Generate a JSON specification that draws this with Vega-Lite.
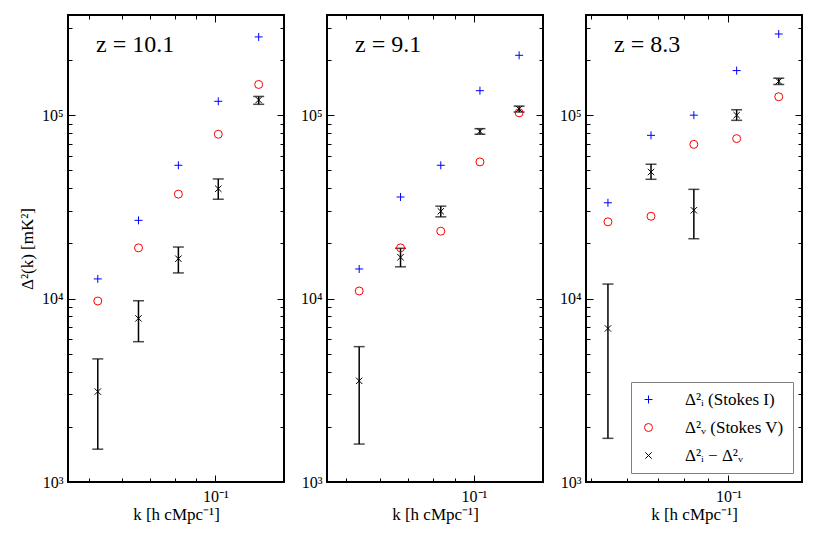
{
  "$schema": "https://vega.github.io/schema/vega-lite/v6.json",
  "padding": {"left": 17, "top": 13, "right": 5, "bottom": 5},
  "config": {
    "font": "Liberation Serif",
    "view": {"stroke": "black", "strokeWidth": 2},
    "axis": {"domain": false, "grid": false, "tickColor": "black", "tickWidth": 1, "labelFont": "Liberation Serif", "labelFontSize": 16, "labelColor": "black", "titleFont": "Liberation Serif", "titleFontWeight": "normal", "titleFontSize": 17, "titleColor": "black", "labelOverlap": false, "labelFlush": false},
    "title": {"font": "Liberation Serif", "fontWeight": "normal", "fontSize": 24, "color": "black"}
  },
  "datasets": {
    "pts": [
      {"z": "10.1", "k": 0.0526, "series": "I", "value": 12800},
      {"z": "10.1", "k": 0.0657, "series": "I", "value": 26700},
      {"z": "10.1", "k": 0.0817, "series": "I", "value": 53300},
      {"z": "10.1", "k": 0.1016, "series": "I", "value": 119000},
      {"z": "10.1", "k": 0.1267, "series": "I", "value": 267000},
      {"z": "10.1", "k": 0.0526, "series": "V", "value": 9700},
      {"z": "10.1", "k": 0.0657, "series": "V", "value": 18900},
      {"z": "10.1", "k": 0.0817, "series": "V", "value": 37100},
      {"z": "10.1", "k": 0.1016, "series": "V", "value": 78700},
      {"z": "10.1", "k": 0.1267, "series": "V", "value": 147000},
      {"z": "10.1", "k": 0.0526, "series": "D", "value": 3110, "lo": 1510, "hi": 4690},
      {"z": "10.1", "k": 0.0657, "series": "D", "value": 7800, "lo": 5820, "hi": 9730},
      {"z": "10.1", "k": 0.0817, "series": "D", "value": 16500, "lo": 13800, "hi": 19100},
      {"z": "10.1", "k": 0.1016, "series": "D", "value": 39700, "lo": 34800, "hi": 44900},
      {"z": "10.1", "k": 0.1267, "series": "D", "value": 121000, "lo": 114600, "hi": 126500},
      {"z": "9.1", "k": 0.0536, "series": "I", "value": 14500},
      {"z": "9.1", "k": 0.0671, "series": "I", "value": 35800},
      {"z": "9.1", "k": 0.0835, "series": "I", "value": 53300},
      {"z": "9.1", "k": 0.1033, "series": "I", "value": 136000},
      {"z": "9.1", "k": 0.1278, "series": "I", "value": 212000},
      {"z": "9.1", "k": 0.0536, "series": "V", "value": 11000},
      {"z": "9.1", "k": 0.0671, "series": "V", "value": 18900},
      {"z": "9.1", "k": 0.0835, "series": "V", "value": 23300},
      {"z": "9.1", "k": 0.1033, "series": "V", "value": 55600},
      {"z": "9.1", "k": 0.1278, "series": "V", "value": 103000},
      {"z": "9.1", "k": 0.0536, "series": "D", "value": 3560, "lo": 1610, "hi": 5470},
      {"z": "9.1", "k": 0.0671, "series": "D", "value": 16800, "lo": 14900, "hi": 18800},
      {"z": "9.1", "k": 0.0835, "series": "D", "value": 29900, "lo": 27900, "hi": 31900},
      {"z": "9.1", "k": 0.1033, "series": "D", "value": 81600, "lo": 78700, "hi": 84400},
      {"z": "9.1", "k": 0.1278, "series": "D", "value": 108000, "lo": 104000, "hi": 112000},
      {"z": "8.3", "k": 0.0545, "series": "I", "value": 33300},
      {"z": "8.3", "k": 0.0677, "series": "I", "value": 77600},
      {"z": "8.3", "k": 0.084, "series": "I", "value": 100000},
      {"z": "8.3", "k": 0.1042, "series": "I", "value": 175000},
      {"z": "8.3", "k": 0.1288, "series": "I", "value": 277000},
      {"z": "8.3", "k": 0.0545, "series": "V", "value": 26200},
      {"z": "8.3", "k": 0.0677, "series": "V", "value": 28100},
      {"z": "8.3", "k": 0.084, "series": "V", "value": 69300},
      {"z": "8.3", "k": 0.1042, "series": "V", "value": 74500},
      {"z": "8.3", "k": 0.1288, "series": "V", "value": 126000},
      {"z": "8.3", "k": 0.0545, "series": "D", "value": 6870, "lo": 1730, "hi": 12000},
      {"z": "8.3", "k": 0.0677, "series": "D", "value": 49000, "lo": 44700, "hi": 54000},
      {"z": "8.3", "k": 0.084, "series": "D", "value": 30300, "lo": 21200, "hi": 39400},
      {"z": "8.3", "k": 0.1042, "series": "D", "value": 100000, "lo": 93700, "hi": 107000},
      {"z": "8.3", "k": 0.1288, "series": "D", "value": 153000, "lo": 147000, "hi": 159000}
    ]
  },
  "data": {"name": "pts"},
  "bounds": "flush",
  "spacing": 43,
  "resolve": {
    "scale": {"x": "independent", "y": "independent", "color": "independent", "shape": "independent"},
    "legend": {"color": "independent", "shape": "independent"}
  },
  "hconcat": [
    {
      "width": 216, "height": 467,
      "title": {"text": "z = 10.1", "font": "Liberation Serif", "fontSize": 24, "fontWeight": "normal", "color": "black", "anchor": "start", "frame": "group", "orient": "top", "offset": -61, "dx": 28, "baseline": "alphabetic"},
      "transform": [{"filter": "datum.z == '10.1'"}],
      "resolve": {"axis": {"x": "independent", "y": "independent"}},
      "layer": [
        {
          "transform": [{"filter": "datum.series == 'D'"}],
          "mark": {"type": "rule", "color": "black", "strokeWidth": 1.5},
          "encoding": {
            "x": {"field": "k", "type": "quantitative", "scale": {"type": "log", "domain": [0.0447, 0.1455]}, "axis": {"orient": "top", "values": [0.1], "labels": false, "title": null, "tickSize": -7}},
            "y": {"field": "lo", "type": "quantitative", "scale": {"type": "log", "domain": [1000, 351600]}, "axis": {"orient": "right", "values": [1000, 10000, 100000], "labels": false, "title": null, "tickSize": -7}},
            "y2": {"field": "hi"}
          }
        },
        {
          "transform": [{"filter": "datum.series == 'D'"}],
          "mark": {"type": "tick", "orient": "horizontal", "color": "black", "size": 11, "thickness": 1.5},
          "encoding": {
            "x": {"field": "k", "type": "quantitative", "scale": {"type": "log", "domain": [0.0447, 0.1455]}, "axis": {"orient": "bottom", "values": [0.05, 0.06, 0.07, 0.08, 0.09], "labels": false, "title": null, "tickSize": -4}},
            "y": {"field": "lo", "type": "quantitative", "scale": {"type": "log", "domain": [1000, 351600]}, "axis": {"orient": "left", "values": [2000, 3000, 4000, 5000, 6000, 7000, 8000, 9000, 20000, 30000, 40000, 50000, 60000, 70000, 80000, 90000, 200000, 300000], "labels": false, "title": null, "tickSize": -4}}
          }
        },
        {
          "transform": [{"filter": "datum.series == 'D'"}],
          "mark": {"type": "tick", "orient": "horizontal", "color": "black", "size": 11, "thickness": 1.5},
          "encoding": {
            "x": {"field": "k", "type": "quantitative", "scale": {"type": "log", "domain": [0.0447, 0.1455]}, "axis": {"orient": "top", "values": [0.05, 0.06, 0.07, 0.08, 0.09], "labels": false, "title": null, "tickSize": -4}},
            "y": {"field": "hi", "type": "quantitative", "scale": {"type": "log", "domain": [1000, 351600]}, "axis": {"orient": "right", "values": [2000, 3000, 4000, 5000, 6000, 7000, 8000, 9000, 20000, 30000, 40000, 50000, 60000, 70000, 80000, 90000, 200000, 300000], "labels": false, "title": null, "tickSize": -4}}
          }
        },
        {
          "mark": {"type": "point", "filled": false, "size": 64, "strokeWidth": 1, "opacity": 1},
          "encoding": {
            "x": {"field": "k", "type": "quantitative", "scale": {"type": "log", "domain": [0.0447, 0.1455]}, "axis": {"orient": "bottom", "values": [0.1], "labelExpr": "'10⁻¹'", "labelPadding": 13, "title": "k [h cMpc⁻¹]", "titlePadding": 2, "tickSize": -7}},
            "y": {"field": "value", "type": "quantitative", "scale": {"type": "log", "domain": [1000, 351600]}, "axis": {"orient": "left", "values": [1000, 10000, 100000], "labelExpr": "datum.value == 1000 ? '10³' : datum.value == 10000 ? '10⁴' : '10⁵'", "labelPadding": 12, "title": "Δ²(k) [mK²]", "titlePadding": 5, "tickSize": -7}},
            "color": {"field": "series", "type": "nominal", "scale": {"domain": ["I", "V", "D"], "range": ["#0000ff", "#ff0000", "#000000"]}, "legend": null},
            "shape": {"field": "series", "type": "nominal", "scale": {"domain": ["I", "V", "D"], "range": ["M-1,0L1,0M0,-1L0,1", "circle", "M-0.8,-0.8L0.8,0.8M-0.8,0.8L0.8,-0.8"]}, "legend": null}
          }
        }
      ]
    },
    {
      "width": 216, "height": 467,
      "title": {"text": "z = 9.1", "font": "Liberation Serif", "fontSize": 24, "fontWeight": "normal", "color": "black", "anchor": "start", "frame": "group", "orient": "top", "offset": -61, "dx": 28, "baseline": "alphabetic"},
      "transform": [{"filter": "datum.z == '9.1'"}],
      "resolve": {"axis": {"x": "independent", "y": "independent"}},
      "layer": [
        {
          "transform": [{"filter": "datum.series == 'D'"}],
          "mark": {"type": "rule", "color": "black", "strokeWidth": 1.5},
          "encoding": {
            "x": {"field": "k", "type": "quantitative", "scale": {"type": "log", "domain": [0.045, 0.1455]}, "axis": {"orient": "top", "values": [0.1], "labels": false, "title": null, "tickSize": -7}},
            "y": {"field": "lo", "type": "quantitative", "scale": {"type": "log", "domain": [1000, 351600]}, "axis": {"orient": "right", "values": [1000, 10000, 100000], "labels": false, "title": null, "tickSize": -7}},
            "y2": {"field": "hi"}
          }
        },
        {
          "transform": [{"filter": "datum.series == 'D'"}],
          "mark": {"type": "tick", "orient": "horizontal", "color": "black", "size": 11, "thickness": 1.5},
          "encoding": {
            "x": {"field": "k", "type": "quantitative", "scale": {"type": "log", "domain": [0.045, 0.1455]}, "axis": {"orient": "bottom", "values": [0.05, 0.06, 0.07, 0.08, 0.09], "labels": false, "title": null, "tickSize": -4}},
            "y": {"field": "lo", "type": "quantitative", "scale": {"type": "log", "domain": [1000, 351600]}, "axis": {"orient": "left", "values": [2000, 3000, 4000, 5000, 6000, 7000, 8000, 9000, 20000, 30000, 40000, 50000, 60000, 70000, 80000, 90000, 200000, 300000], "labels": false, "title": null, "tickSize": -4}}
          }
        },
        {
          "transform": [{"filter": "datum.series == 'D'"}],
          "mark": {"type": "tick", "orient": "horizontal", "color": "black", "size": 11, "thickness": 1.5},
          "encoding": {
            "x": {"field": "k", "type": "quantitative", "scale": {"type": "log", "domain": [0.045, 0.1455]}, "axis": {"orient": "top", "values": [0.05, 0.06, 0.07, 0.08, 0.09], "labels": false, "title": null, "tickSize": -4}},
            "y": {"field": "hi", "type": "quantitative", "scale": {"type": "log", "domain": [1000, 351600]}, "axis": {"orient": "right", "values": [2000, 3000, 4000, 5000, 6000, 7000, 8000, 9000, 20000, 30000, 40000, 50000, 60000, 70000, 80000, 90000, 200000, 300000], "labels": false, "title": null, "tickSize": -4}}
          }
        },
        {
          "mark": {"type": "point", "filled": false, "size": 64, "strokeWidth": 1, "opacity": 1},
          "encoding": {
            "x": {"field": "k", "type": "quantitative", "scale": {"type": "log", "domain": [0.045, 0.1455]}, "axis": {"orient": "bottom", "values": [0.1], "labelExpr": "'10⁻¹'", "labelPadding": 13, "title": "k [h cMpc⁻¹]", "titlePadding": 2, "tickSize": -7}},
            "y": {"field": "value", "type": "quantitative", "scale": {"type": "log", "domain": [1000, 351600]}, "axis": {"orient": "left", "values": [1000, 10000, 100000], "labelExpr": "datum.value == 1000 ? '10³' : datum.value == 10000 ? '10⁴' : '10⁵'", "labelPadding": 12, "title": null, "tickSize": -7}},
            "color": {"field": "series", "type": "nominal", "scale": {"domain": ["I", "V", "D"], "range": ["#0000ff", "#ff0000", "#000000"]}, "legend": null},
            "shape": {"field": "series", "type": "nominal", "scale": {"domain": ["I", "V", "D"], "range": ["M-1,0L1,0M0,-1L0,1", "circle", "M-0.8,-0.8L0.8,0.8M-0.8,0.8L0.8,-0.8"]}, "legend": null}
          }
        }
      ]
    },
    {
      "width": 216, "height": 467,
      "title": {"text": "z = 8.3", "font": "Liberation Serif", "fontSize": 24, "fontWeight": "normal", "color": "black", "anchor": "start", "frame": "group", "orient": "top", "offset": -61, "dx": 28, "baseline": "alphabetic"},
      "transform": [{"filter": "datum.z == '8.3'"}],
      "resolve": {"axis": {"x": "independent", "y": "independent"}},
      "layer": [
        {
          "transform": [{"filter": "datum.series == 'D'"}],
          "mark": {"type": "rule", "color": "black", "strokeWidth": 1.5},
          "encoding": {
            "x": {"field": "k", "type": "quantitative", "scale": {"type": "log", "domain": [0.0488, 0.1448]}, "axis": {"orient": "top", "values": [0.1], "labels": false, "title": null, "tickSize": -7}},
            "y": {"field": "lo", "type": "quantitative", "scale": {"type": "log", "domain": [1000, 351600]}, "axis": {"orient": "right", "values": [1000, 10000, 100000], "labels": false, "title": null, "tickSize": -7}},
            "y2": {"field": "hi"}
          }
        },
        {
          "transform": [{"filter": "datum.series == 'D'"}],
          "mark": {"type": "tick", "orient": "horizontal", "color": "black", "size": 11, "thickness": 1.5},
          "encoding": {
            "x": {"field": "k", "type": "quantitative", "scale": {"type": "log", "domain": [0.0488, 0.1448]}, "axis": {"orient": "bottom", "values": [0.05, 0.06, 0.07, 0.08, 0.09], "labels": false, "title": null, "tickSize": -4}},
            "y": {"field": "lo", "type": "quantitative", "scale": {"type": "log", "domain": [1000, 351600]}, "axis": {"orient": "left", "values": [2000, 3000, 4000, 5000, 6000, 7000, 8000, 9000, 20000, 30000, 40000, 50000, 60000, 70000, 80000, 90000, 200000, 300000], "labels": false, "title": null, "tickSize": -4}}
          }
        },
        {
          "transform": [{"filter": "datum.series == 'D'"}],
          "mark": {"type": "tick", "orient": "horizontal", "color": "black", "size": 11, "thickness": 1.5},
          "encoding": {
            "x": {"field": "k", "type": "quantitative", "scale": {"type": "log", "domain": [0.0488, 0.1448]}, "axis": {"orient": "top", "values": [0.05, 0.06, 0.07, 0.08, 0.09], "labels": false, "title": null, "tickSize": -4}},
            "y": {"field": "hi", "type": "quantitative", "scale": {"type": "log", "domain": [1000, 351600]}, "axis": {"orient": "right", "values": [2000, 3000, 4000, 5000, 6000, 7000, 8000, 9000, 20000, 30000, 40000, 50000, 60000, 70000, 80000, 90000, 200000, 300000], "labels": false, "title": null, "tickSize": -4}}
          }
        },
        {
          "mark": {"type": "point", "filled": false, "size": 64, "strokeWidth": 1, "opacity": 1},
          "encoding": {
            "x": {"field": "k", "type": "quantitative", "scale": {"type": "log", "domain": [0.0488, 0.1448]}, "axis": {"orient": "bottom", "values": [0.1], "labelExpr": "'10⁻¹'", "labelPadding": 13, "title": "k [h cMpc⁻¹]", "titlePadding": 2, "tickSize": -7}},
            "y": {"field": "value", "type": "quantitative", "scale": {"type": "log", "domain": [1000, 351600]}, "axis": {"orient": "left", "values": [1000, 10000, 100000], "labelExpr": "datum.value == 1000 ? '10³' : datum.value == 10000 ? '10⁴' : '10⁵'", "labelPadding": 12, "title": null, "tickSize": -7}},
            "color": {"field": "series", "type": "nominal", "scale": {"domain": ["I", "V", "D"], "range": ["#0000ff", "#ff0000", "#000000"]}, "legend": {"orient": "bottom-right", "offset": 9, "title": null, "fillColor": "white", "strokeColor": "#808080", "padding": 9, "rowPadding": 10, "labelFont": "Liberation Serif", "labelFontSize": 17, "labelColor": "black", "symbolSize": 64, "symbolStrokeWidth": 1, "symbolOffset": 0, "labelOffset": 28, "cornerRadius": 0, "labelExpr": "datum.value == 'I' ? 'Δ²ᵢ (Stokes I)' : datum.value == 'V' ? 'Δ²ᵥ (Stokes V)' : 'Δ²ᵢ − Δ²ᵥ'"}},
            "shape": {"field": "series", "type": "nominal", "scale": {"domain": ["I", "V", "D"], "range": ["M-1,0L1,0M0,-1L0,1", "circle", "M-0.8,-0.8L0.8,0.8M-0.8,0.8L0.8,-0.8"]}, "legend": {"orient": "bottom-right", "offset": 9, "title": null, "fillColor": "white", "strokeColor": "#808080", "padding": 9, "rowPadding": 10, "labelFont": "Liberation Serif", "labelFontSize": 17, "labelColor": "black", "symbolSize": 64, "symbolStrokeWidth": 1, "symbolOffset": 0, "labelOffset": 28, "cornerRadius": 0, "labelExpr": "datum.value == 'I' ? 'Δ²ᵢ (Stokes I)' : datum.value == 'V' ? 'Δ²ᵥ (Stokes V)' : 'Δ²ᵢ − Δ²ᵥ'"}}
          }
        }
      ]
    }
  ]
}
